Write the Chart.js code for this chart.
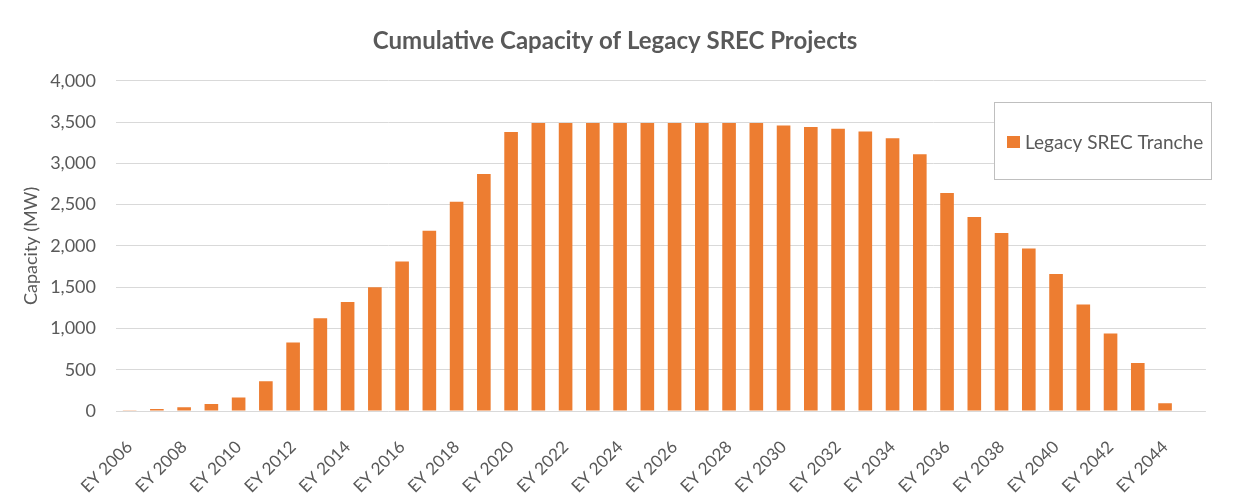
<!DOCTYPE html>
<html>
<head>
<meta charset="utf-8">
<script src="https://cdn.jsdelivr.net/npm/chart.js@4"></script>
<style>
  html, body { margin: 0; padding: 0; background: #fff; }
  #wrap { width: 1233px; height: 495px; position: relative; }
</style>
</head>
<body>
<div id="wrap"><canvas id="srecChart"></canvas></div>
<script>
const years = [];
for (let y = 2006; y <= 2045; y++) years.push('EY ' + y);

const capacityMW = [
  10, 25, 45, 85, 165, 360, 830, 1125, 1320, 1500,
  1810, 2185, 2535, 2870, 3380, 3490, 3490, 3490, 3490, 3490,
  3490, 3490, 3490, 3490, 3460, 3440, 3420, 3385, 3305, 3110,
  2640, 2350, 2155, 1970, 1660, 1290, 940, 580, 95, null
];

const yTicks = [0, 500, 1000, 1500, 2000, 2500, 3000, 3500, 4000];

const FONT = 'Lato, "Open Sans", sans-serif';
const GREY = '#595959';
const ORANGE = '#ED7D31';

// Excel style legend box sitting over the top right of the plot
const boxLegend = {
  id: 'boxLegend',
  afterDraw(chart) {
    const ctx = chart.ctx;
    const ds = chart.data.datasets[0];
    const x = 994, y = 102, w = 218, h = 78;
    ctx.save();
    ctx.fillStyle = '#fff';
    ctx.fillRect(x, y, w, h);
    ctx.strokeStyle = '#bfbfbf';
    ctx.lineWidth = 1;
    ctx.strokeRect(x + 0.5, y + 0.5, w - 1, h - 1);
    ctx.fillStyle = ds.backgroundColor;
    ctx.fillRect(x + 13, y + 34, 13, 12);
    ctx.fillStyle = GREY;
    ctx.font = '19px ' + FONT;
    ctx.textBaseline = 'middle';
    ctx.fillText(ds.label, x + 31, y + 41);
    ctx.restore();
  }
};

const ctx = document.getElementById('srecChart');
new Chart(ctx, {
  type: 'bar',
  data: {
    labels: years,
    datasets: [
      {
        label: 'Legacy SREC Tranche',
        data: capacityMW,
        backgroundColor: ORANGE,
        borderWidth: 0,
        barPercentage: 0.5,
        categoryPercentage: 1.0
      }
    ]
  },
  options: {
    responsive: true,
    maintainAspectRatio: false,
    animation: false,
    layout: { padding: { left: 20, right: 23, top: 0, bottom: 0 } },
    plugins: {
      legend: { display: false },
      tooltip: { enabled: false },
      title: {
        display: true,
        text: 'Cumulative Capacity of Legacy SREC Projects',
        color: GREY,
        font: { size: 24, weight: 'bold', family: FONT },
        padding: { top: 27, bottom: 25 }
      }
    },
    scales: {
      x: {
        grid: { display: false, drawTicks: false },
        border: { display: false },
        ticks: {
          color: GREY,
          font: { size: 17, family: FONT },
          autoSkip: false,
          minRotation: 45,
          maxRotation: 45,
          padding: 26,
          callback: function (val, i) {
            return i % 2 === 0 ? this.getLabelForValue(val) : '';
          }
        },
        afterFit: (s) => { s.height = 84; }
      },
      y: {
        min: 0,
        max: 4000,
        afterBuildTicks: (s) => { s.ticks = yTicks.map(v => ({ value: v })); },
        grid: { color: '#d9d9d9', lineWidth: 1, drawTicks: false },
        border: { display: false },
        ticks: {
          color: GREY,
          font: { size: 18, family: FONT },
          padding: 20,
          callback: (v) => v.toLocaleString('en-US')
        },
        title: {
          display: true,
          text: 'Capacity (MW)',
          color: GREY,
          font: { size: 18, family: FONT },
          padding: { top: 0, bottom: 4 }
        },
        afterFit: (s) => { s.width = 96; }
      }
    }
  },
  plugins: [boxLegend]
});
</script>
</body>
</html>
